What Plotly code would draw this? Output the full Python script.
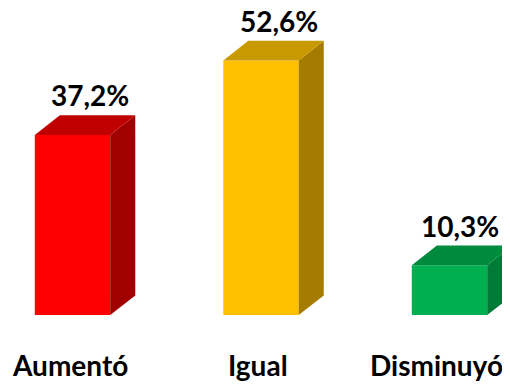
import plotly.graph_objects as go

categorias = ["Aumentó", "Igual", "Disminuyó"]
valores = [37.2, 52.6, 10.3]
etiquetas = ["37,2%", "52,6%", "10,3%"]

col_frente = ["#FF0000", "#FFC000", "#00B050"]
col_lado = ["#A00000", "#A67C00", "#007A37"]
col_tapa = ["#C00000", "#C89A00", "#008A3E"]

# geometry of the fake 3D bars (data units)
ancho = 0.40
dx = 0.133
dy = 4.05

fig = go.Figure()
xs = list(range(len(categorias)))

fig.add_trace(go.Bar(x=xs, y=valores, width=ancho,
                     marker=dict(color=col_frente, line=dict(width=0)),
                     hoverinfo="skip", showlegend=False))

for i, v in enumerate(valores):
    xr = i + ancho / 2
    xl = i - ancho / 2
    # side face
    fig.add_trace(go.Scatter(x=[xr, xr + dx, xr + dx, xr, xr],
                             y=[0, dy, v + dy, v, 0],
                             fill="toself", fillcolor=col_lado[i],
                             mode="lines", line=dict(width=0),
                             hoverinfo="skip", showlegend=False))
    # top face
    fig.add_trace(go.Scatter(x=[xl, xl + dx, xr + dx, xr, xl],
                             y=[v, v + dy, v + dy, v, v],
                             fill="toself", fillcolor=col_tapa[i],
                             mode="lines", line=dict(width=0),
                             hoverinfo="skip", showlegend=False))

fuente = dict(family="Lato", size=28, color="#000000", weight="bold")

anots = []
for i, v in enumerate(valores):
    anots.append(dict(x=i + 0.095, y=v + dy, text=etiquetas[i], showarrow=False,
                      yshift=20, xshift=-7 if i == 2 else 0, font=fuente,
                      xanchor="center", yanchor="middle"))
    anots.append(dict(x=i, y=0, text=categorias[i], showarrow=False,
                      yshift=-50, xshift=-13 if i == 2 else -3, font=fuente,
                      xanchor="center", yanchor="middle"))

fig.update_layout(
    width=502, height=381,
    margin=dict(l=0, r=0, t=30, b=74),
    paper_bgcolor="white", plot_bgcolor="white",
    xaxis=dict(range=[-0.3422, 2.321], visible=False, fixedrange=True),
    yaxis=dict(range=[0, 57.23], visible=False, fixedrange=True),
    annotations=anots,
)

fig.write_html("out.html")
